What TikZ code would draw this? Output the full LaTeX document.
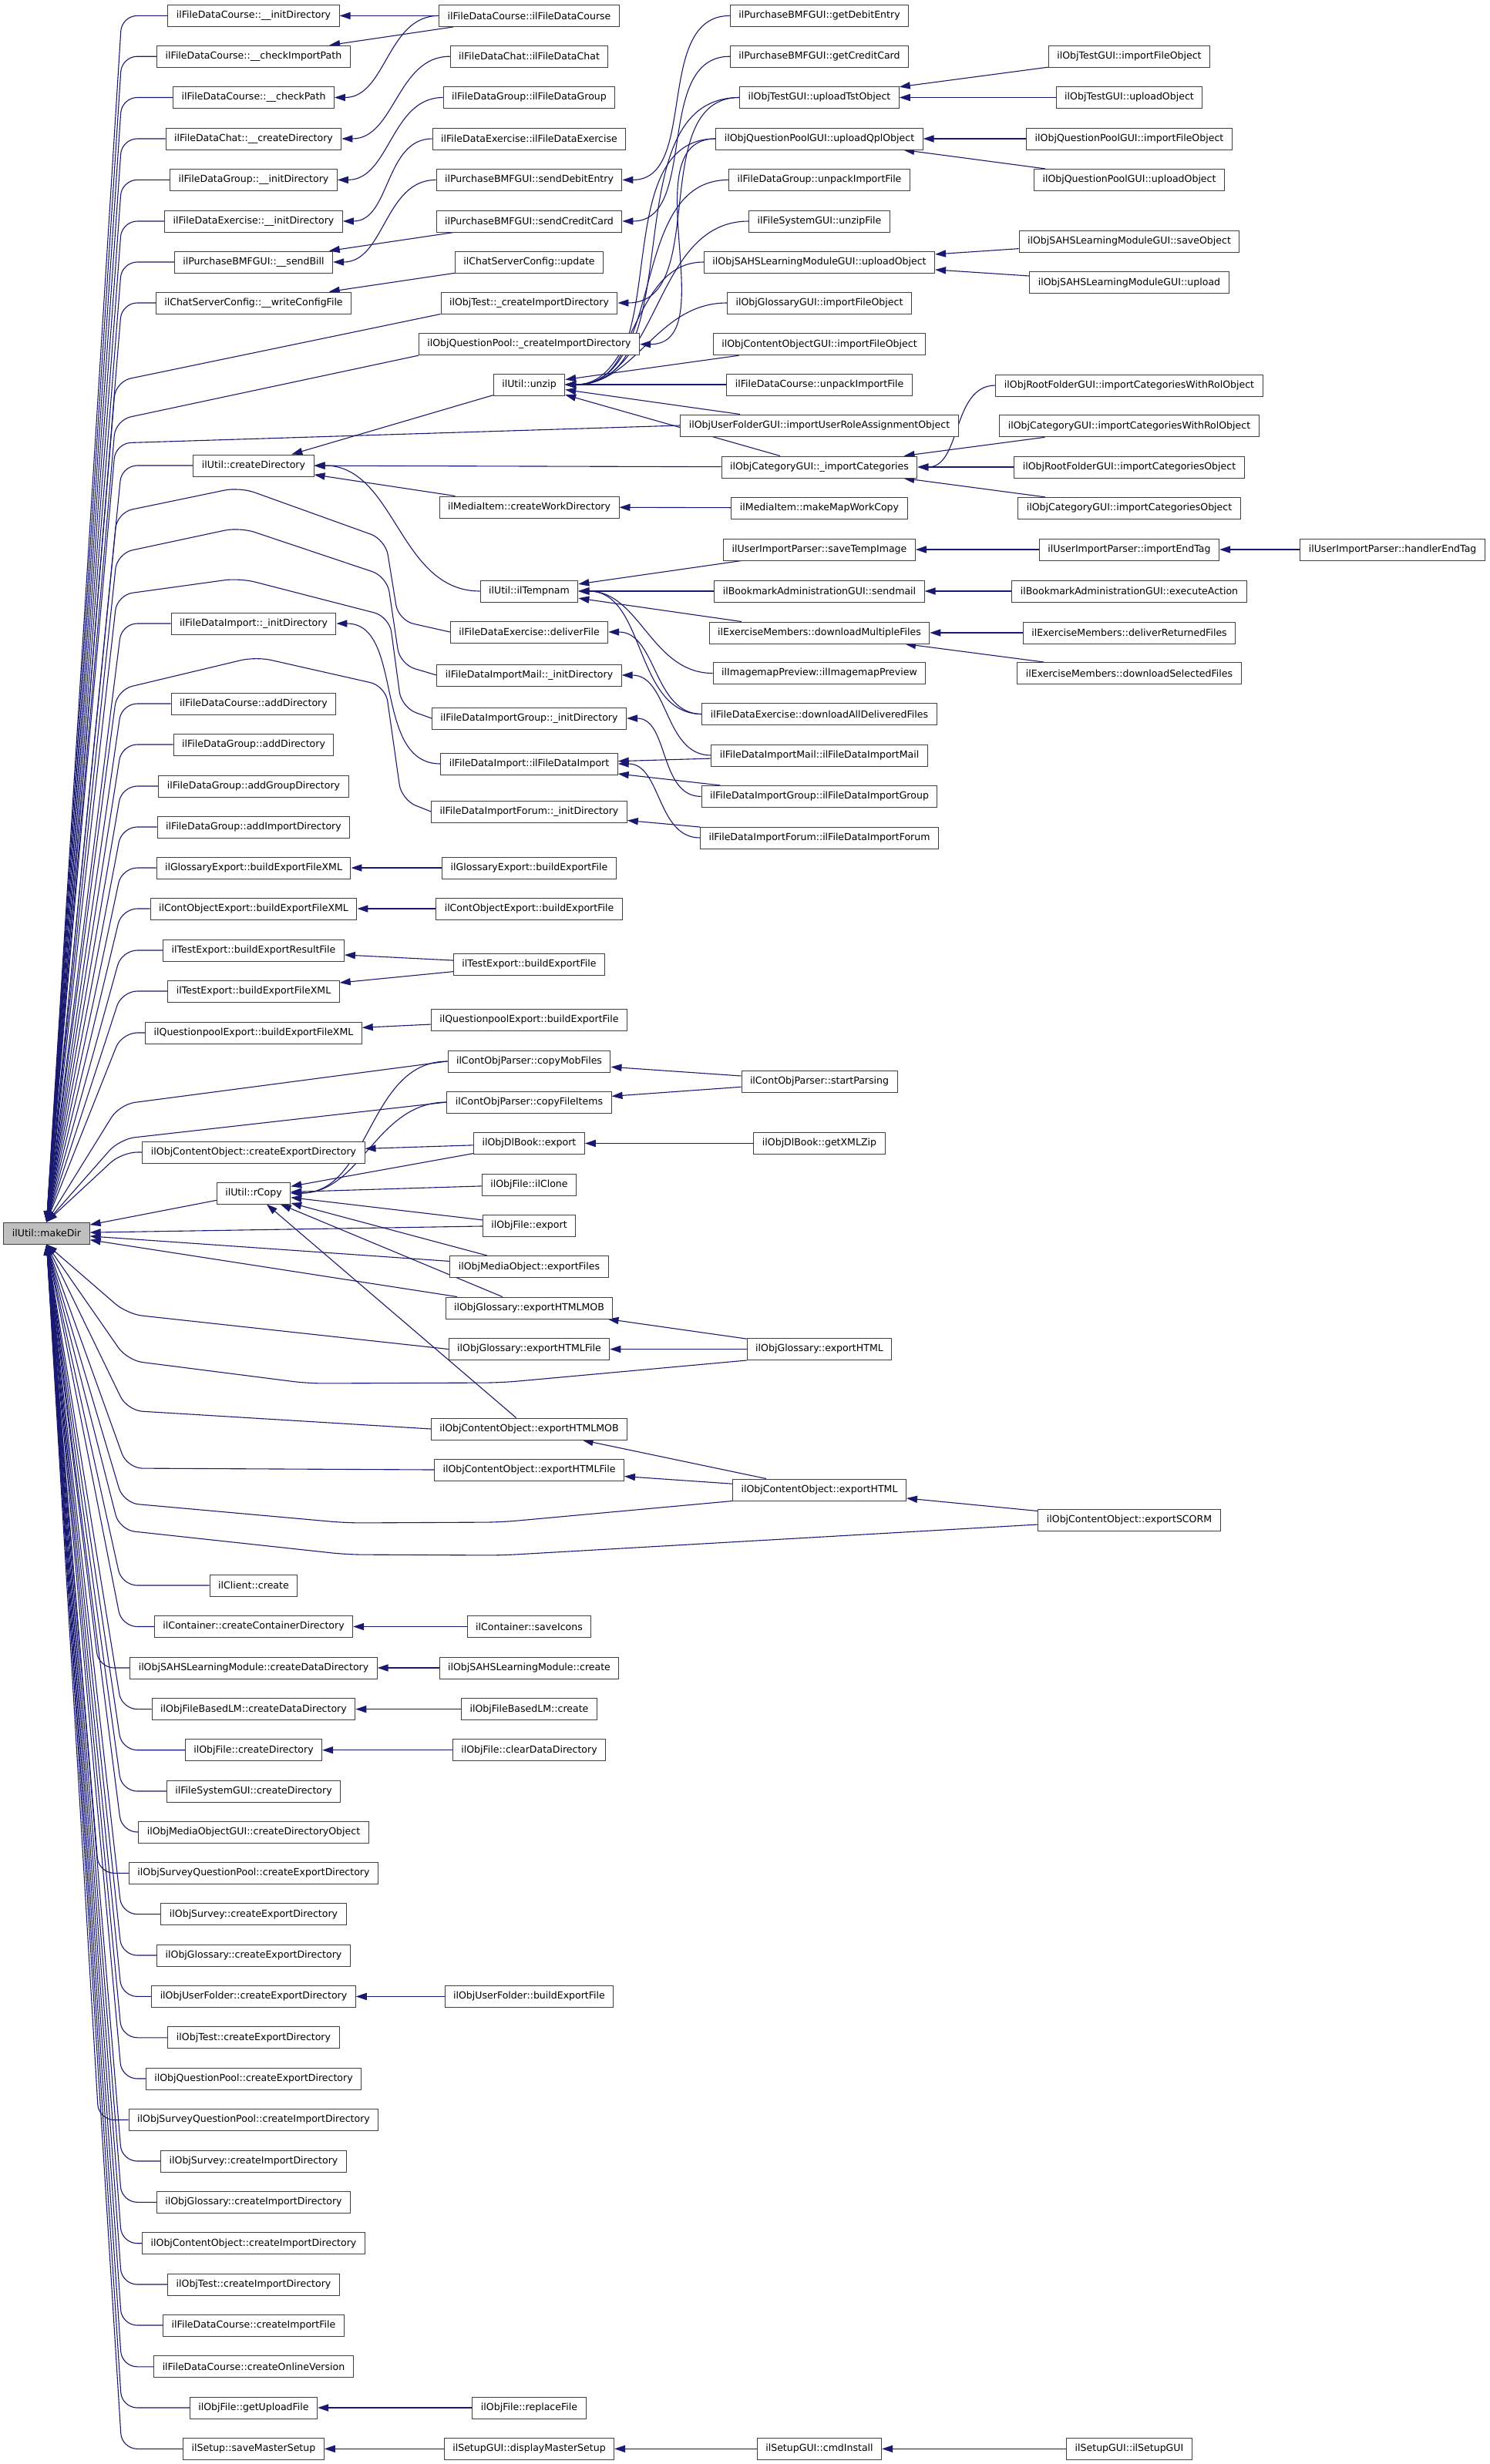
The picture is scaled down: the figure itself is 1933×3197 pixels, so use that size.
\documentclass[tikz,border=0pt]{standalone}
\usepackage{fontspec}
\setsansfont{DejaVu Sans}
\usepackage{xcolor}
\usetikzlibrary{arrows.meta,backgrounds}

\definecolor{edgeblue}{HTML}{191970}
\definecolor{rootgray}{HTML}{BFBFBF}

\begin{document}
\begin{tikzpicture}[
    x=0.5pt, y=-0.5pt,
    func/.style={draw=black!75, line width=0.5pt, fill=white,
                 font=\sffamily\fontsize{6.27}{7}\selectfont,
                 inner xsep=5.5pt, inner ysep=0pt, minimum height=14pt},
    call/.style={{Triangle[length=7pt,width=4.6pt]}-, draw=edgeblue,
                 line width=0.55pt},
    root/.style={call, rounded corners=10pt}
]
\useasboundingbox (0,0) rectangle (1933,3197);
\coordinate (bend) at (158,0);
\coordinate (bendw) at (128,0);

% the called function
\node[func, fill=rootgray] (makedir) at (60.5,1600) {ilUtil::makeDir};

% direct callers
\node[func] (fdcinitdir) at (329,20.4) {ilFileDataCourse::\_\_initDirectory};
\node[func] (fdccheckimport) at (329,73.2) {ilFileDataCourse::\_\_checkImportPath};
\node[func] (fdccheckpath) at (329,126.5) {ilFileDataCourse::\_\_checkPath};
\node[func] (chatcreatedir) at (329,180) {ilFileDataChat::\_\_createDirectory};
\node[func] (fdginitdir) at (329,233.4) {ilFileDataGroup::\_\_initDirectory};
\node[func] (fdeinitdir) at (329,287) {ilFileDataExercise::\_\_initDirectory};
\node[func] (sendbill) at (329,340) {ilPurchaseBMFGUI::\_\_sendBill};
\node[func] (writeconfig) at (329,393) {ilChatServerConfig::\_\_writeConfigFile};
\node[func] (createdir) at (329,604) {ilUtil::createDirectory};
\node[func] (fdiinitdir) at (329,809) {ilFileDataImport::\_initDirectory};
\node[func] (fdcadddir) at (329,913) {ilFileDataCourse::addDirectory};
\node[func] (fdgadddir) at (329,966) {ilFileDataGroup::addDirectory};
\node[func] (fdgaddgroup) at (329,1020) {ilFileDataGroup::addGroupDirectory};
\node[func] (fdgaddimport) at (329,1073) {ilFileDataGroup::addImportDirectory};
\node[func] (glossxml) at (329,1126) {ilGlossaryExport::buildExportFileXML};
\node[func] (contobjxml) at (329,1179) {ilContObjectExport::buildExportFileXML};
\node[func] (testresult) at (329,1233) {ilTestExport::buildExportResultFile};
\node[func] (testxml) at (329,1286) {ilTestExport::buildExportFileXML};
\node[func] (qplxml) at (329,1340) {ilQuestionpoolExport::buildExportFileXML};
\node[func] (cocreateexport) at (329,1495) {ilObjContentObject::createExportDirectory};
\node[func] (rcopy) at (329,1548) {ilUtil::rCopy};
\node[func] (clientcreate) at (329,2057) {ilClient::create};
\node[func] (containerdir) at (329,2110.5) {ilContainer::createContainerDirectory};
\node[func] (sahsdatadir) at (329,2164) {ilObjSAHSLearningModule::createDataDirectory};
\node[func] (fblmdatadir) at (329,2217.6) {ilObjFileBasedLM::createDataDirectory};
\node[func] (filecreatedir) at (329,2270.7) {ilObjFile::createDirectory};
\node[func] (fsguicreatedir) at (329,2324) {ilFileSystemGUI::createDirectory};
\node[func] (mobguidir) at (329,2377) {ilObjMediaObjectGUI::createDirectoryObject};
\node[func] (sqpexportdir) at (329,2430.3) {ilObjSurveyQuestionPool::createExportDirectory};
\node[func] (surveyexportdir) at (329,2483.6) {ilObjSurvey::createExportDirectory};
\node[func] (glossexportdir) at (329,2537) {ilObjGlossary::createExportDirectory};
\node[func] (ufexportdir) at (329,2590.4) {ilObjUserFolder::createExportDirectory};
\node[func] (testexportdir) at (329,2643.8) {ilObjTest::createExportDirectory};
\node[func] (qplexportdir) at (329,2697) {ilObjQuestionPool::createExportDirectory};
\node[func] (sqpimportdir) at (329,2750.5) {ilObjSurveyQuestionPool::createImportDirectory};
\node[func] (surveyimportdir) at (329,2804) {ilObjSurvey::createImportDirectory};
\node[func] (glossimportdir) at (329,2857.3) {ilObjGlossary::createImportDirectory};
\node[func] (coimportdir) at (329,2910.7) {ilObjContentObject::createImportDirectory};
\node[func] (testimportdir) at (329,2964) {ilObjTest::createImportDirectory};
\node[func] (fdcimportfile) at (329,3017) {ilFileDataCourse::createImportFile};
\node[func] (fdconline) at (329,3070.8) {ilFileDataCourse::createOnlineVersion};
\node[func] (getupload) at (329,3124) {ilObjFile::getUploadFile};
\node[func] (savemaster) at (329,3177.3) {ilSetup::saveMasterSetup};

% second column
\node[func] (fdcctor) at (686.5,20.4) {ilFileDataCourse::ilFileDataCourse};
\node[func] (chatctor) at (686.5,73.2) {ilFileDataChat::ilFileDataChat};
\node[func] (fdgctor) at (686.5,126.5) {ilFileDataGroup::ilFileDataGroup};
\node[func] (fdector) at (686.5,180) {ilFileDataExercise::ilFileDataExercise};
\node[func] (senddebit) at (686.5,233.4) {ilPurchaseBMFGUI::sendDebitEntry};
\node[func] (sendcredit) at (686.5,287) {ilPurchaseBMFGUI::sendCreditCard};
\node[func] (chatupdate) at (686.5,340) {ilChatServerConfig::update};
\node[func] (tstcrimport) at (686.5,393) {ilObjTest::\_createImportDirectory};
\node[func] (qplcrimport) at (686.5,446.7) {ilObjQuestionPool::\_createImportDirectory};
\node[func] (unzip) at (686.5,499) {ilUtil::unzip};
\node[func] (workdir) at (686.5,658) {ilMediaItem::createWorkDirectory};
\node[func] (tempnam) at (686.5,767) {ilUtil::ilTempnam};
\node[func] (deliverfile) at (686.5,820) {ilFileDataExercise::deliverFile};
\node[func] (mailinit) at (686.5,876) {ilFileDataImportMail::\_initDirectory};
\node[func] (groupinit) at (686.5,932) {ilFileDataImportGroup::\_initDirectory};
\node[func] (fdictor) at (686.5,991) {ilFileDataImport::ilFileDataImport};
\node[func] (foruminit) at (686.5,1053) {ilFileDataImportForum::\_initDirectory};
\node[func] (glossbuild) at (686.5,1126) {ilGlossaryExport::buildExportFile};
\node[func] (contobjbuild) at (686.5,1179) {ilContObjectExport::buildExportFile};
\node[func] (testbuild) at (686.5,1251) {ilTestExport::buildExportFile};
\node[func] (qplbuild) at (686.5,1323) {ilQuestionpoolExport::buildExportFile};
\node[func] (copymob) at (686.5,1377) {ilContObjParser::copyMobFiles};
\node[func] (copyfiles) at (686.5,1430) {ilContObjParser::copyFileItems};
\node[func] (dlbookexport) at (686.5,1483.5) {ilObjDlBook::export};
\node[func] (fileclone) at (686.5,1537) {ilObjFile::ilClone};
\node[func] (fileexport) at (686.5,1590) {ilObjFile::export};
\node[func] (mobexport) at (686.5,1643.6) {ilObjMediaObject::exportFiles};
\node[func] (glosshtmlmob) at (686.5,1697) {ilObjGlossary::exportHTMLMOB};
\node[func] (glosshtmlfile) at (686.5,1750.5) {ilObjGlossary::exportHTMLFile};
\node[func] (cohtmlmob) at (686.5,1854) {ilObjContentObject::exportHTMLMOB};
\node[func] (cohtmlfile) at (686.5,1907) {ilObjContentObject::exportHTMLFile};
\node[func] (saveicons) at (686.5,2110.5) {ilContainer::saveIcons};
\node[func] (sahscreate) at (686.5,2164) {ilObjSAHSLearningModule::create};
\node[func] (fblmcreate) at (686.5,2217.6) {ilObjFileBasedLM::create};
\node[func] (cleardata) at (686.5,2270.7) {ilObjFile::clearDataDirectory};
\node[func] (ufbuild) at (686.5,2590.4) {ilObjUserFolder::buildExportFile};
\node[func] (replacefile) at (686.5,3124) {ilObjFile::replaceFile};
\node[func] (displaymaster) at (686.5,3177.3) {ilSetupGUI::displayMasterSetup};

% third column
\node[func] (getdebit) at (1063,20.4) {ilPurchaseBMFGUI::getDebitEntry};
\node[func] (getcredit) at (1063,73.2) {ilPurchaseBMFGUI::getCreditCard};
\node[func] (uploadtst) at (1063,126.5) {ilObjTestGUI::uploadTstObject};
\node[func] (uploadqpl) at (1063,180) {ilObjQuestionPoolGUI::uploadQplObject};
\node[func] (fdgunpack) at (1063,233.4) {ilFileDataGroup::unpackImportFile};
\node[func] (unzipfile) at (1063,287) {ilFileSystemGUI::unzipFile};
\node[func] (sahsupload) at (1063,340) {ilObjSAHSLearningModuleGUI::uploadObject};
\node[func] (glossimport) at (1063,393) {ilObjGlossaryGUI::importFileObject};
\node[func] (coimport) at (1063,446.7) {ilObjContentObjectGUI::importFileObject};
\node[func] (fdcunpack) at (1063,499) {ilFileDataCourse::unpackImportFile};
\node[func] (roleassign) at (1063,552) {ilObjUserFolderGUI::importUserRoleAssignmentObject};
\node[func] (importcat) at (1063,606) {ilObjCategoryGUI::\_importCategories};
\node[func] (mapcopy) at (1063,659) {ilMediaItem::makeMapWorkCopy};
\node[func] (savetemp) at (1063,713) {ilUserImportParser::saveTempImage};
\node[func] (sendmail) at (1063,767) {ilBookmarkAdministrationGUI::sendmail};
\node[func] (downloadmulti) at (1063,821) {ilExerciseMembers::downloadMultipleFiles};
\node[func] (imagemap) at (1063,873.5) {ilImagemapPreview::ilImagemapPreview};
\node[func] (downloadall) at (1063,926.5) {ilFileDataExercise::downloadAllDeliveredFiles};
\node[func] (mailctor) at (1063,980) {ilFileDataImportMail::ilFileDataImportMail};
\node[func] (groupctor) at (1063,1033.4) {ilFileDataImportGroup::ilFileDataImportGroup};
\node[func] (forumctor) at (1063,1087) {ilFileDataImportForum::ilFileDataImportForum};
\node[func] (startparsing) at (1063,1403) {ilContObjParser::startParsing};
\node[func] (getxmlzip) at (1063,1483.5) {ilObjDlBook::getXMLZip};
\node[func] (glosshtml) at (1063,1750.5) {ilObjGlossary::exportHTML};
\node[func] (cohtml) at (1063,1933) {ilObjContentObject::exportHTML};
\node[func] (cmdinstall) at (1063,3177.3) {ilSetupGUI::cmdInstall};

% fourth and fifth column
\node[func] (tstimportfile) at (1465,73.2) {ilObjTestGUI::importFileObject};
\node[func] (tstuploadobj) at (1465,126.5) {ilObjTestGUI::uploadObject};
\node[func] (qplimportfile) at (1465,180) {ilObjQuestionPoolGUI::importFileObject};
\node[func] (qpluploadobj) at (1465,233.4) {ilObjQuestionPoolGUI::uploadObject};
\node[func] (sahssave) at (1465,313) {ilObjSAHSLearningModuleGUI::saveObject};
\node[func] (sahsuploadgui) at (1465,366.6) {ilObjSAHSLearningModuleGUI::upload};
\node[func] (rootcatrol) at (1465,500) {ilObjRootFolderGUI::importCategoriesWithRolObject};
\node[func] (catcatrol) at (1465,552.8) {ilObjCategoryGUI::importCategoriesWithRolObject};
\node[func] (rootcatobj) at (1465,606) {ilObjRootFolderGUI::importCategoriesObject};
\node[func] (catcatobj) at (1465,659.4) {ilObjCategoryGUI::importCategoriesObject};
\node[func] (importendtag) at (1465,713) {ilUserImportParser::importEndTag};
\node[func] (executeaction) at (1465,767) {ilBookmarkAdministrationGUI::executeAction};
\node[func] (deliverreturned) at (1465,821) {ilExerciseMembers::deliverReturnedFiles};
\node[func] (downloadselected) at (1465,873.5) {ilExerciseMembers::downloadSelectedFiles};
\node[func] (exportscorm) at (1465,1972) {ilObjContentObject::exportSCORM};
\node[func] (setupgui) at (1465,3177.3) {ilSetupGUI::ilSetupGUI};
\node[func] (handlerendtag) at (1806.6,713) {ilUserImportParser::handlerEndTag};

\begin{scope}[on background layer]
% callers of makeDir above it
\draw[root] (makedir.north) -- (fdcinitdir.west -| bend) -- (fdcinitdir.west);
\draw[root] (makedir.north) -- (fdccheckimport.west -| bend) -- (fdccheckimport.west);
\draw[root] (makedir.north) -- (fdccheckpath.west -| bend) -- (fdccheckpath.west);
\draw[root] (makedir.north) -- (chatcreatedir.west -| bend) -- (chatcreatedir.west);
\draw[root] (makedir.north) -- (fdginitdir.west -| bend) -- (fdginitdir.west);
\draw[root] (makedir.north) -- (fdeinitdir.west -| bend) -- (fdeinitdir.west);
\draw[root] (makedir.north) -- (sendbill.west -| bend) -- (sendbill.west);
\draw[root] (makedir.north) -- (writeconfig.west -| bend) -- (writeconfig.west);
\draw[root] (makedir.north) -- (createdir.west -| bend) -- (createdir.west);
\draw[root] (makedir.north) -- (fdiinitdir.west -| bend) -- (fdiinitdir.west);
\draw[root] (makedir.north) -- (fdcadddir.west -| bend) -- (fdcadddir.west);
\draw[root] (makedir.north) -- (fdgadddir.west -| bend) -- (fdgadddir.west);
\draw[root] (makedir.north) -- (fdgaddgroup.west -| bend) -- (fdgaddgroup.west);
\draw[root] (makedir.north) -- (fdgaddimport.west -| bend) -- (fdgaddimport.west);
\draw[root] (makedir.north) -- (glossxml.west -| bend) -- (glossxml.west);
\draw[root] (makedir.north) -- (contobjxml.west -| bend) -- (contobjxml.west);
\draw[root] (makedir.north) -- (testresult.west -| bend) -- (testresult.west);
\draw[root] (makedir.north) -- (testxml.west -| bend) -- (testxml.west);
\draw[root] (makedir.north) -- (qplxml.west -| bend) -- (qplxml.west);
\draw[root] (makedir.north) -- (cocreateexport.west -| bend) -- (cocreateexport.west);
\draw[call] (makedir) -- (rcopy);
\draw[root] (makedir.north) -- (150,495) -- (tstcrimport.south west);
\draw[root] (makedir.north) -- (150,545) -- (qplcrimport.south west);
\draw[root] (makedir.north) -- (150,575) -- (roleassign.west);
\draw[root] (makedir.north) -- (152,665) -- (311,632) -- (500,700) -- (517,805) -- (deliverfile.west);
\draw[root] (makedir.north) -- (152,718) -- (311,684) -- (502,748) -- (519,862) -- (mailinit.west);
\draw[root] (makedir.north) -- (152,772) -- (311,750) -- (505,800) -- (521,918) -- (groupinit.west);
\draw[root] (makedir.north) -- (152,895) -- (332,852) -- (500,890) -- (521,1038) -- (foruminit.west);
\draw[root] (makedir.north) -- (155,1433) -- (copymob.west);
\draw[root] (makedir.north) -- (155,1478) -- (copyfiles.west);

% callers of makeDir to the right and below it
\draw[call] (makedir) -- (fileexport);
\draw[call] (makedir) -- (mobexport);
\draw[call] (makedir) -- (glosshtmlmob);
\draw[root] (makedir.south) -- (165,1705) -- (glosshtmlfile.west);
\draw[root] (makedir.south) -- (165,1765) -- (400,1795) -- (650,1794) -- (glosshtml.south west);
\draw[root] (makedir.south) -- (165,1830) -- (cohtmlmob.west);
\draw[root] (makedir.south) -- (165,1905) -- (cohtmlfile.west);
\draw[root] (makedir.south) -- (160,1950) -- (450,1976) -- (650,1975) -- (cohtml.south west);
\draw[root] (makedir.south) -- (155,1985) -- (450,2017) -- (650,2018) -- ([yshift=-3pt]exportscorm.west);
\draw[root] (makedir.south) -- (clientcreate.west -| bend) -- (clientcreate.west);
\draw[root] (makedir.south) -- (containerdir.west -| bend) -- (containerdir.west);
\draw[root] (makedir.south) -- (sahsdatadir.west -| bendw) -- (sahsdatadir.west);
\draw[root] (makedir.south) -- (fblmdatadir.west -| bend) -- (fblmdatadir.west);
\draw[root] (makedir.south) -- (filecreatedir.west -| bend) -- (filecreatedir.west);
\draw[root] (makedir.south) -- (fsguicreatedir.west -| bend) -- (fsguicreatedir.west);
\draw[root] (makedir.south) -- (mobguidir.west -| bend) -- (mobguidir.west);
\draw[root] (makedir.south) -- (sqpexportdir.west -| bendw) -- (sqpexportdir.west);
\draw[root] (makedir.south) -- (surveyexportdir.west -| bend) -- (surveyexportdir.west);
\draw[root] (makedir.south) -- (glossexportdir.west -| bend) -- (glossexportdir.west);
\draw[root] (makedir.south) -- (ufexportdir.west -| bend) -- (ufexportdir.west);
\draw[root] (makedir.south) -- (testexportdir.west -| bend) -- (testexportdir.west);
\draw[root] (makedir.south) -- (qplexportdir.west -| bend) -- (qplexportdir.west);
\draw[root] (makedir.south) -- (sqpimportdir.west -| bendw) -- (sqpimportdir.west);
\draw[root] (makedir.south) -- (surveyimportdir.west -| bend) -- (surveyimportdir.west);
\draw[root] (makedir.south) -- (glossimportdir.west -| bend) -- (glossimportdir.west);
\draw[root] (makedir.south) -- (coimportdir.west -| bend) -- (coimportdir.west);
\draw[root] (makedir.south) -- (testimportdir.west -| bend) -- (testimportdir.west);
\draw[root] (makedir.south) -- (fdcimportfile.west -| bend) -- (fdcimportfile.west);
\draw[root] (makedir.south) -- (fdconline.west -| bend) -- (fdconline.west);
\draw[root] (makedir.south) -- (getupload.west -| bend) -- (getupload.west);
\draw[root] (makedir.south) -- (savemaster.west -| bend) -- (savemaster.west);

% first column <- second column
\draw[call] (fdcinitdir) -- (fdcctor);
\draw[call] (fdccheckimport) -- (fdcctor);
\draw[call] (fdccheckpath) to[out=0,in=180] (fdcctor);
\draw[call] (chatcreatedir) to[out=0,in=180] (chatctor);
\draw[call] (fdginitdir) to[out=0,in=180] (fdgctor);
\draw[call] (fdeinitdir) to[out=0,in=180] (fdector);
\draw[call] (sendbill) to[out=0,in=180] (senddebit);
\draw[call] (sendbill) -- (sendcredit);
\draw[call] (writeconfig) -- (chatupdate);
\draw[call] (createdir) -- (unzip);
\draw[call] (createdir) -- (importcat);
\draw[call] (createdir) -- (workdir);
\draw[call] (createdir) to[out=0,in=180] (tempnam);
\draw[call] (fdiinitdir) to[out=0,in=180] (fdictor);
\draw[call] (glossxml) -- (glossbuild);
\draw[call] (contobjxml) -- (contobjbuild);
\draw[call] (testresult) -- (testbuild);
\draw[call] (testxml) -- (testbuild);
\draw[call] (qplxml) -- (qplbuild);
\draw[call] (cocreateexport) -- (dlbookexport);
\draw[call] (rcopy) to[out=0,in=180] (copymob);
\draw[call] (rcopy) to[out=0,in=180] (copyfiles);
\draw[call] (rcopy) -- (dlbookexport);
\draw[call] (rcopy) -- (fileclone);
\draw[call] (rcopy) -- (fileexport);
\draw[call] (rcopy) -- (mobexport);
\draw[call] (rcopy) -- (glosshtmlmob);
\draw[call] (rcopy) -- (cohtmlmob);
\draw[call] (containerdir) -- (saveicons);
\draw[call] (sahsdatadir) -- (sahscreate);
\draw[call] (fblmdatadir) -- (fblmcreate);
\draw[call] (filecreatedir) -- (cleardata);
\draw[call] (ufexportdir) -- (ufbuild);
\draw[call] (getupload) -- (replacefile);
\draw[call] (savemaster) -- (displaymaster);

% second column <- third column
\draw[call] (senddebit) to[out=0,in=180] (getdebit);
\draw[call] (sendcredit) to[out=0,in=180] (getcredit);
\draw[call] (tstcrimport) to[out=0,in=180] (uploadtst);
\draw[call] (qplcrimport) to[out=0,in=180] (uploadqpl);
\draw[call] (unzip) to[out=0,in=180] (uploadtst);
\draw[call] (unzip) to[out=0,in=180] (uploadqpl);
\draw[call] (unzip) to[out=0,in=180] (fdgunpack);
\draw[call] (unzip) to[out=0,in=180] (unzipfile);
\draw[call] (unzip) to[out=0,in=180] (sahsupload);
\draw[call] (unzip) to[out=0,in=180] (glossimport);
\draw[call] (unzip) -- (coimport);
\draw[call] (unzip) -- (fdcunpack);
\draw[call] (unzip) -- (roleassign);
\draw[call] (unzip) -- (importcat);
\draw[call] (workdir) -- (mapcopy);
\draw[call] (tempnam) -- (savetemp);
\draw[call] (tempnam) -- (sendmail);
\draw[call] (tempnam) -- (downloadmulti);
\draw[call] (tempnam) to[out=0,in=180] (imagemap);
\draw[call] (tempnam) to[out=0,in=180] (downloadall);
\draw[call] (deliverfile) to[out=0,in=180] (downloadall);
\draw[call] (mailinit) to[out=0,in=180] (mailctor);
\draw[call] (groupinit) to[out=0,in=180] (groupctor);
\draw[call] (fdictor) -- (mailctor);
\draw[call] (fdictor) -- (groupctor);
\draw[call] (fdictor) to[out=0,in=180] (forumctor);
\draw[call] (foruminit) -- (forumctor);
\draw[call] (copymob) -- (startparsing);
\draw[call] (copyfiles) -- (startparsing);
\draw[call] (dlbookexport) -- (getxmlzip);
\draw[call] (glosshtmlmob) -- (glosshtml);
\draw[call] (glosshtmlfile) -- (glosshtml);
\draw[call] (cohtmlmob) -- (cohtml);
\draw[call] (cohtmlfile) -- (cohtml);
\draw[call] (displaymaster) -- (cmdinstall);

% third column <- fourth and fifth column
\draw[call] (uploadtst) -- (tstimportfile);
\draw[call] (uploadtst) -- (tstuploadobj);
\draw[call] (uploadqpl) -- (qplimportfile);
\draw[call] (uploadqpl) -- (qpluploadobj);
\draw[call] (sahsupload) -- (sahssave);
\draw[call] (sahsupload) -- (sahsuploadgui);
\draw[call] (importcat) to[out=0,in=180] (rootcatrol);
\draw[call] (importcat) -- (catcatrol);
\draw[call] (importcat) -- (rootcatobj);
\draw[call] (importcat) -- (catcatobj);
\draw[call] (savetemp) -- (importendtag);
\draw[call] (sendmail) -- (executeaction);
\draw[call] (downloadmulti) -- (deliverreturned);
\draw[call] (downloadmulti) -- (downloadselected);
\draw[call] (cohtml) -- (exportscorm);
\draw[call] (cmdinstall) -- (setupgui);
\draw[call] (importendtag) -- (handlerendtag);
\end{scope}
\end{tikzpicture}
\end{document}
